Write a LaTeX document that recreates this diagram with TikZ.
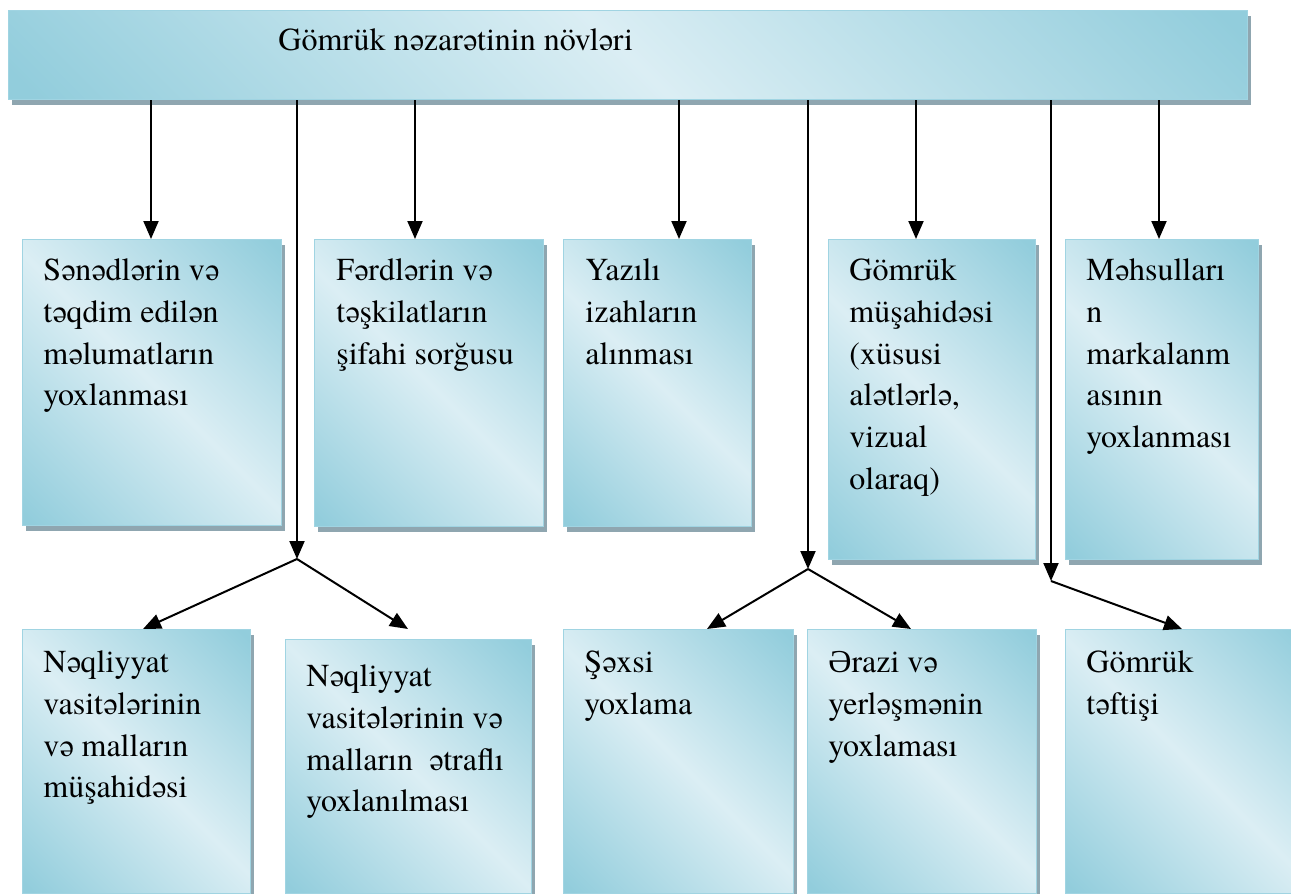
\documentclass[tikz,border=0pt]{standalone}
\usepackage{fontspec}
\setmainfont{TeX Gyre Termes}
\newfontfamily\libserif{Liberation Serif}
\usetikzlibrary{arrows.meta,shadows}
\definecolor{aqdk}{RGB}{146,205,220}
\definecolor{aqlt}{RGB}{219,238,244}
\definecolor{aqbd}{RGB}{160,212,226}
\definecolor{shc}{RGB}{143,166,176}
\pgfdeclarehorizontalshading{aquad}{100bp}{color(0bp)=(aqdk); color(16bp)=(aqdk); color(50bp)=(aqlt); color(84bp)=(aqdk); color(100bp)=(aqdk)}
\begin{document}
\begin{tikzpicture}[x=0.5pt,y=-0.5pt,
  box/.style={draw=aqbd, line width=0.7pt, shading=aquad, shading angle=45,
    anchor=north west, inner sep=0pt,
    general shadow={fill=shc, shadow xshift=1.5pt, shadow yshift=-2.5pt}},
  txt/.style={anchor=north west, inner sep=0pt, align=left,
    font=\fontsize{16}{20.9}\selectfont, yshift=14.6pt},
  arr/.style={line width=1pt, -{Triangle[length=9pt,width=7.5pt]}}]
\clip (0,0) rectangle (1291,894);
% top bar
\node[box, minimum width=619.5pt, minimum height=44.5pt] (bar) at (8,10) {};
\node[txt] (title) at (278,50) {\strut Gömrük nəzarətinin növləri};
% row 1
\node[box, minimum width=129.5pt, minimum height=143pt] (b1) at (22,239) {};
\node[box, minimum width=114.5pt, minimum height=143.5pt] (b2) at (314,239) {};
\node[box, minimum width=94pt, minimum height=143.5pt] (b3) at (563,239) {};
\node[box, minimum width=103.5pt, minimum height=160pt] (b4) at (828,239) {};
\node[box, minimum width=96.5pt, minimum height=160pt] (b5) at (1065,239) {};
% row 2
\node[box, minimum width=114pt, minimum height=132pt] (b6) at (22,629) {};
\node[box, minimum width=123pt, minimum height=127pt] (b7) at (285,639) {};
\node[box, minimum width=115pt, minimum height=132pt] (b8) at (563,629) {};
\node[box, minimum width=114.5pt, minimum height=132pt] (b9) at (807,629) {};
\node[box, minimum width=122.5pt, minimum height=132pt] (b10) at (1065,629) {};
% texts
\node[txt] (t1) at (43,280) {\strut Sənədlərin və\\təqdim edilən\\məlumatların\\yoxlanması};
\node[txt] (t2) at (336,280) {\strut Fərdlərin və\\təşkilatların\\şifahi sorğusu};
\node[txt] (t3) at (585,280) {\strut Yazılı\\izahların\\alınması};
\node[txt] (t4) at (849,280) {\strut Gömrük\\müşahidəsi\\(xüsusi\\alətlərlə,\\vizual\\olaraq)};
\node[txt] (t5) at (1086,280) {\strut Məhsulları\\n\\markalanm\\asının\\yoxlanması};
\node[txt] (t6) at (43,672) {\strut Nəqliyyat\\vasitələrinin\\və malların\\müşahidəsi};
\node[txt] (t7) at (306,686) {\strut Nəqliyyat\\vasitələrinin və\\malların\ \ ətraflı\\yoxlanılması};
\node[txt] (t8) at (584,672) {\strut Şəxsi\\yoxlama};
\node[txt] (t9) at (828,672) {\strut {\libserif Ə}razi və\\yerləşmənin\\yoxlaması};
\node[txt] (t10) at (1086,672) {\strut Gömrük\\təftişi};
% connector points
\coordinate (p1) at (151,239);
\coordinate (p2) at (415,239);
\coordinate (p3) at (679,239);
\coordinate (p4) at (916,239);
\coordinate (p5) at (1159,239);
\coordinate (j1) at (297,559);
\coordinate (j2) at (808,569);
\coordinate (j3) at (1051,581);
\coordinate (p6) at (143,629);
\coordinate (p7) at (408,629);
\coordinate (p8) at (707,629);
\coordinate (p9) at (911,629);
\coordinate (p10) at (1182,629);
% connectors
\draw[arr] (p1 |- bar.south) -- (p1);
\draw[arr] (p2 |- bar.south) -- (p2);
\draw[arr] (p3 |- bar.south) -- (p3);
\draw[arr] (p4 |- bar.south) -- (p4);
\draw[arr] (p5 |- bar.south) -- (p5);
\draw[arr] (j1 |- bar.south) -- (j1);
\draw[arr] (j2 |- bar.south) -- (j2);
\draw[arr] (j3 |- bar.south) -- (j3);
\draw[arr] (j1) -- (p6);
\draw[arr] (j1) -- (p7);
\draw[arr] (j2) -- (p8);
\draw[arr] (j2) -- (p9);
\draw[arr] (j3) -- (p10);
\end{tikzpicture}
\end{document}
